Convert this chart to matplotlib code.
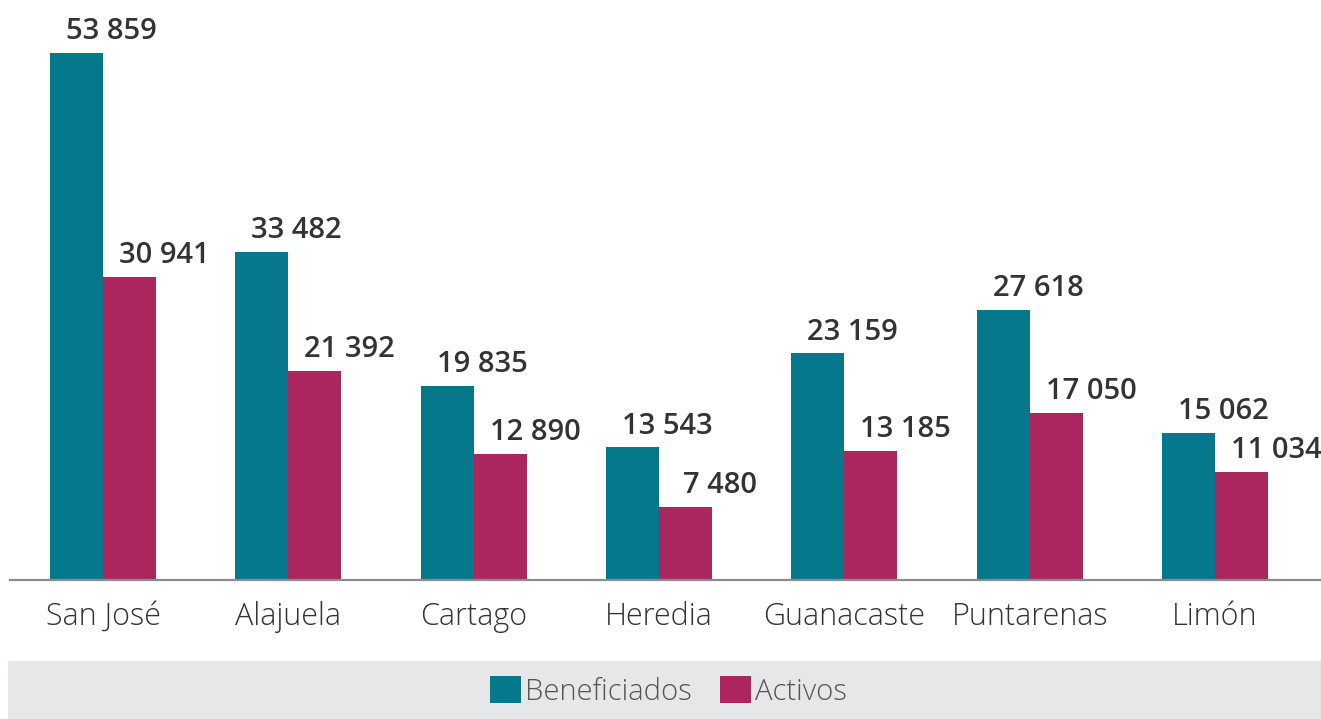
import matplotlib.pyplot as plt
import numpy as np
from matplotlib.patches import Rectangle, Patch

# Data
provincias = ["San José", "Alajuela", "Cartago", "Heredia", "Guanacaste", "Puntarenas", "Limón"]
beneficiados = [53859, 33482, 19835, 13543, 23159, 27618, 15062]
activos = [30941, 21392, 12890, 7480, 13185, 17050, 11034]

teal = "#05788C"
magenta = "#AB265E"
text_col = "#333333"

plt.rcParams['font.family'] = ['Open Sans', 'DejaVu Sans']

def fmt(v):
    return f"{v:,}".replace(",", " ")

fig = plt.figure(figsize=(13.21, 7.19), dpi=100)
ax = fig.add_axes([10.35/1321, 139/719, 1310.65/1321, 580/719])

x = np.arange(len(provincias))
w = 0.286
b1 = ax.bar(x - w/2, beneficiados, w, color=teal)
b2 = ax.bar(x + w/2, activos, w, color=magenta)

for bars, vals in [(b1, beneficiados), (b2, activos)]:
    for rect, v in zip(bars, vals):
        ax.annotate(fmt(v), (rect.get_x() + rect.get_width()/2, v),
                    xytext=(25, 10), textcoords='offset points',
                    ha='center', va='baseline', fontsize=21, fontweight='semibold',
                    color=text_col)

ax.set_xlim(-0.5, 6.5717)
ax.set_ylim(0, 59275)
ax.set_xticks(x)
ax.set_xticklabels(provincias, fontsize=22, color=text_col, fontweight='light')
ax.tick_params(axis='x', length=0, pad=15)
ax.set_yticks([])
for s in ['top', 'right', 'left']:
    ax.spines[s].set_visible(False)
ax.spines['bottom'].set_color('#8c8c8c')
ax.spines['bottom'].set_linewidth(1.6)
ax.patch.set_alpha(0)

# grey legend band
fig.patches.append(Rectangle((8/1321, 0), 1313/1321, 58/719, transform=fig.transFigure,
                             facecolor='#E6E7E9', edgecolor='none', zorder=0))
handles = [Patch(facecolor=teal), Patch(facecolor=magenta)]
fig.legend(handles, ["Beneficiados", "Activos"], loc='center', bbox_to_anchor=(0.506, 0.038),
           ncol=2, frameon=False, handlelength=1.05, handleheight=1.05,
           handletextpad=0.12, columnspacing=1.0, labelcolor='#555555',
           prop={'weight': 'light', 'size': 21})

fig.savefig("out.png", dpi=100)
